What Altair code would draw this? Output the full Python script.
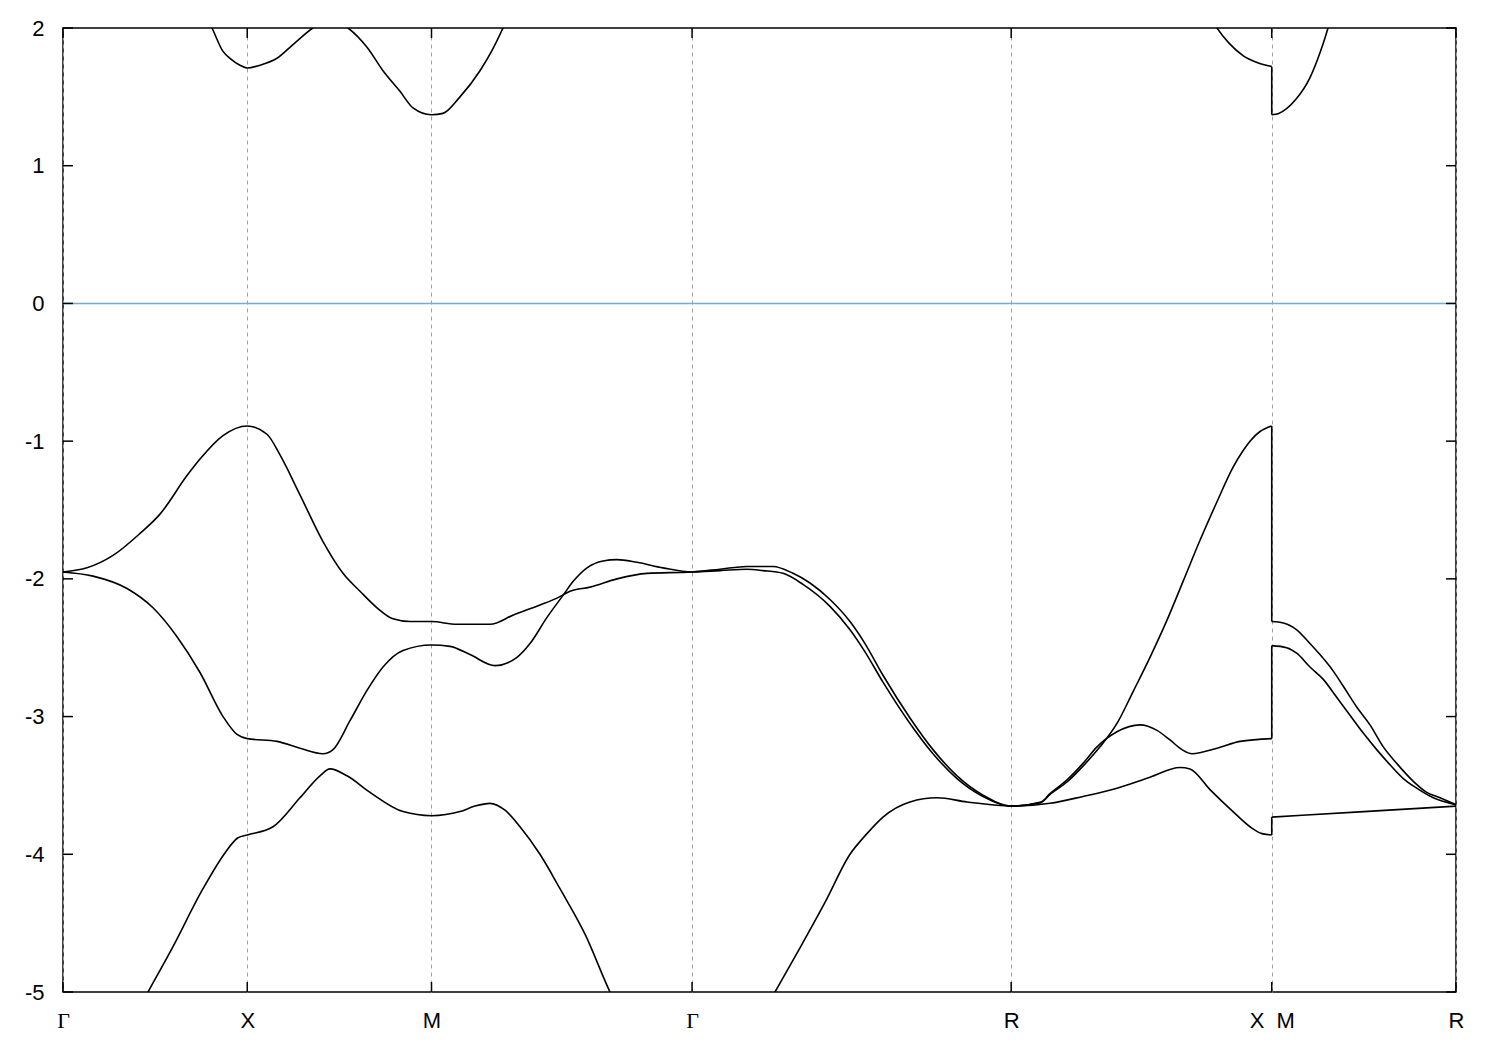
import altair as alt
import pandas as pd

# high-symmetry points along the k-path
kpos = [0.0, 0.5, 1.0, 1.7071, 2.5731, 3.2802, 3.7802]
klabels = ["Γ", "X", "M", "Γ", "R", "X\u00a0\u00a0M", "R"]
yticks = [2, 1, 0, -1, -2, -3, -4, -5]

# band A (lowest visible valence band)
band_a_k = [0.0, 0.155, 0.2307, 0.2985, 0.3799, 0.4396, 0.4749, 0.5, 0.5699, 0.6431, 0.6974, 0.7246,
            0.7707, 0.8331, 0.9227, 1.0, 1.0773, 1.1181, 1.1587, 1.1995, 1.2402, 1.2944, 1.3487,
            1.4166, 1.4844, 1.5658, 1.7071, 1.8507, 1.9322, 2.0, 2.0678, 2.1357, 2.1818, 2.2252,
            2.2985, 2.3718, 2.4532, 2.5731, 2.6784, 2.7680, 2.8602, 2.9498, 3.0312, 3.0583,
            3.1126, 3.1750, 3.2212, 3.2537, 3.2802, 3.2802, 3.53, 3.7802]
band_a_e = [-5.9, -5.37, -5.0, -4.67, -4.25, -3.99, -3.88, -3.86, -3.80, -3.59, -3.43, -3.38,
            -3.43, -3.55, -3.69, -3.72, -3.69, -3.65, -3.63, -3.68, -3.80, -4.00, -4.25,
            -4.58, -5.0, -5.4, -6.0, -5.4, -5.0, -4.68, -4.35, -4.0, -3.85, -3.73,
            -3.62, -3.59, -3.62, -3.65, -3.63, -3.58, -3.52, -3.44, -3.37, -3.38,
            -3.53, -3.69, -3.80, -3.85, -3.86, -3.73, -3.69, -3.65]

# band B
band_b_k = [0.0, 0.0814, 0.1737, 0.2442, 0.3094, 0.3718, 0.4342, 0.4722, 0.5, 0.5807, 0.6431,
            0.7056, 0.7327, 0.7788, 0.8250, 0.8684, 0.9227, 1.0, 1.0502, 1.1045, 1.1723, 1.2320,
            1.2673, 1.3134, 1.3569, 1.3840, 1.4220, 1.4654, 1.5034, 1.5577, 1.6282, 1.7071,
            1.7829, 1.8562, 1.8996, 1.9539, 2.0081, 2.0814, 2.1357, 2.1764, 2.2252, 2.2985,
            2.3609, 2.4261, 2.4966, 2.5731, 2.6540, 2.6784, 2.7246, 2.7680, 2.8060, 2.8602,
            2.9227, 2.9688, 3.0041, 3.0366, 3.0638, 3.1316, 3.1940, 3.2802, 3.2802, 3.3207,
            3.3479, 3.3840, 3.4201, 3.4564, 3.4925, 3.5286, 3.5650, 3.6011, 3.6372, 3.6735,
            3.7186, 3.7802]
band_b_e = [-1.95, -1.98, -2.07, -2.21, -2.42, -2.68, -3.00, -3.13, -3.16, -3.18, -3.23,
            -3.27, -3.24, -3.03, -2.81, -2.64, -2.52, -2.48, -2.49, -2.55, -2.63, -2.57,
            -2.47, -2.28, -2.12, -2.02, -1.92, -1.87, -1.86, -1.88, -1.92, -1.95,
            -1.94, -1.93, -1.94, -1.96, -2.04, -2.20, -2.37, -2.53, -2.75, -3.05,
            -3.27, -3.45, -3.58, -3.65, -3.62, -3.56, -3.46, -3.34, -3.22, -3.11,
            -3.06, -3.10, -3.17, -3.24, -3.27, -3.23, -3.18, -3.16, -2.485, -2.50,
            -2.54, -2.64, -2.73, -2.86, -2.99, -3.12, -3.24, -3.35, -3.45, -3.52,
            -3.59, -3.64]

# band C
band_c_k = [0.0, 0.0651, 0.1357, 0.2090, 0.2632, 0.3365, 0.3718, 0.4342, 0.5, 0.5536, 0.5889,
            0.6431, 0.7056, 0.7598, 0.8060, 0.8521, 0.8955, 0.9417, 1.0, 1.0685, 1.1587,
            1.2239, 1.2944, 1.3406, 1.3759, 1.4301, 1.5034, 1.5848, 1.7071, 1.7829, 1.8562,
            1.9267, 1.9810, 2.0271, 2.0814, 2.1357, 2.1764, 2.2252, 2.2985, 2.3609, 2.4261,
            2.4966, 2.5731, 2.6540, 2.6784, 2.7246, 2.7680, 2.8141, 2.8602, 2.9037, 2.9498,
            2.9959, 3.0393, 3.0855, 3.1316, 3.1750, 3.2022, 3.2212, 3.2483, 3.2802, 3.2802,
            3.3115, 3.3479, 3.3840, 3.4111, 3.4472, 3.4744, 3.5107, 3.5468, 3.5829, 3.6193,
            3.6643, 3.7007, 3.7368, 3.7802]
band_c_e = [-1.95, -1.92, -1.83, -1.67, -1.53, -1.25, -1.13, -0.96, -0.89, -0.95, -1.10,
            -1.39, -1.73, -1.96, -2.09, -2.21, -2.29, -2.31, -2.31, -2.33, -2.33,
            -2.26, -2.19, -2.14, -2.09, -2.06, -2.00, -1.96, -1.95, -1.93, -1.91,
            -1.91, -1.96, -2.03, -2.15, -2.31, -2.47, -2.70, -3.01, -3.24, -3.43,
            -3.57, -3.65, -3.625, -3.565, -3.475, -3.36, -3.22, -3.05, -2.82, -2.57,
            -2.30, -2.02, -1.72, -1.44, -1.19, -1.07, -1.00, -0.93, -0.89, -2.31,
            -2.32, -2.37, -2.47, -2.55, -2.67, -2.78, -2.93, -3.06, -3.22, -3.34,
            -3.47, -3.55, -3.59, -3.64]

# band D (conduction band)
band_d_k = [0.0, 0.3853, 0.4043, 0.4342, 0.4532, 0.4803, 0.5, 0.5346, 0.5807, 0.6242, 0.6784,
            0.7246, 0.7734, 0.8250, 0.8684, 0.9145, 0.9498, 1.0, 1.0312, 1.0773, 1.1316,
            1.1669, 1.1940, 1.2266, 1.45, 1.7071, 2.5731, 3.0855, 3.1126, 3.1316, 3.1642,
            3.2022, 3.2402, 3.2802, 3.2802, 3.2992, 3.3451, 3.3840, 3.4111, 3.4328, 3.4518,
            3.7802]
band_d_e = [2.9, 2.10, 2.0, 1.83, 1.78, 1.73, 1.71, 1.73, 1.78, 1.88, 2.0,
            2.06, 2.0, 1.86, 1.69, 1.54, 1.42, 1.37, 1.38, 1.50, 1.69,
            1.85, 2.0, 2.2, 2.8, 3.2, 3.0, 2.3, 2.08, 2.0, 1.89,
            1.80, 1.75, 1.72, 1.37, 1.38, 1.48, 1.64, 1.82, 2.0, 2.2,
            3.0]

# Each band is split at the X|M discontinuity into two smooth pieces,
# joined by a vertical segment.
rows, jumps = [], []
for name, ks, es in [("A", band_a_k, band_a_e), ("B", band_b_k, band_b_e),
                     ("C", band_c_k, band_c_e), ("D", band_d_k, band_d_e)]:
    split = next(j for j in range(1, len(ks)) if ks[j] == ks[j - 1])
    for i, (k, e) in enumerate(zip(ks, es)):
        part = 1 if i < split else 2
        rows.append({"seg": f"{name}{part}", "i": i, "k": k, "E": e})
    jumps.append({"k": ks[split], "E": es[split - 1], "E2": es[split]})
bands_df = pd.DataFrame(rows)
jumps_df = pd.DataFrame(jumps)

W, H = 1393, 964
xscale = alt.Scale(domain=[kpos[0], kpos[-1]], nice=False, zero=False)
yscale = alt.Scale(domain=[-5, 2], nice=False, zero=False)

label_expr = ("[" + ",".join("'" + l + "'" for l in klabels) + "][indexof(["
              + ",".join(str(v) for v in kpos) + "], datum.value)]")

xaxis = alt.Axis(values=kpos, labelExpr=label_expr, title=None, domain=False, ticks=False,
                 tickSize=0, labelPadding=18, labelOverlap=False, labelBound=False,
                 labelFlush=False, grid=True, gridDash=[4, 4], gridColor="#a0a0a0",
                 gridWidth=1,
                 labelFont={"condition": {"test": "datum.value == 0 || datum.value == 1.7071",
                                          "value": "Liberation Serif"},
                            "value": "Liberation Sans"})
yaxis = alt.Axis(values=yticks, title=None, domain=False, ticks=False, tickSize=0,
                 labelPadding=19, grid=False, labelOverlap=False, labelFlush=False,
                 labelExpr="datum.value < 0 ? '-' + (-datum.value) : '' + datum.value")

X = alt.X("k:Q", scale=xscale, axis=xaxis)
Y = alt.Y("E:Q", scale=yscale, axis=yaxis)

zero_df = pd.DataFrame({"E": [0]})
zero_line = alt.Chart(zero_df).mark_rule(color="#56b4e9", strokeWidth=1.5).encode(y=Y)

lines = alt.Chart(bands_df).mark_line(color="black", strokeWidth=1.6, clip=True,
                                      interpolate="monotone").encode(
    x=X, y=Y, detail="seg:N", order=alt.Order("i:Q")
)
jump_lines = alt.Chart(jumps_df).mark_rule(color="black", strokeWidth=1.6, clip=True).encode(
    x=X, y=Y, y2="E2:Q"
)

xt_df = pd.DataFrame({"k": kpos})
yt_df = pd.DataFrame({"E": yticks})
tick_style = dict(color="black", strokeWidth=1.5)
xt_bottom = alt.Chart(xt_df).mark_rule(**tick_style).encode(x=X, y=alt.value(H), y2=alt.value(H - 10))
xt_top = alt.Chart(xt_df).mark_rule(**tick_style).encode(x=X, y=alt.value(0), y2=alt.value(10))
yt_left = alt.Chart(yt_df).mark_rule(**tick_style).encode(y=Y, x=alt.value(0), x2=alt.value(10))
yt_right = alt.Chart(yt_df).mark_rule(**tick_style).encode(y=Y, x=alt.value(W), x2=alt.value(W - 10))

chart = alt.layer(zero_line, lines, jump_lines, xt_bottom, xt_top, yt_left, yt_right).properties(
    width=W, height=H,
    autosize=alt.AutoSizeParams(type="none"),
    padding={"left": 55, "top": 20, "right": 20, "bottom": 60},
).configure_view(
    stroke="black", strokeWidth=1.5
).configure_axis(
    labelFont="Liberation Sans", labelFontSize=22, labelColor="black"
)

chart.save("out.html", embed_options={"renderer": "svg", "actions": False})
